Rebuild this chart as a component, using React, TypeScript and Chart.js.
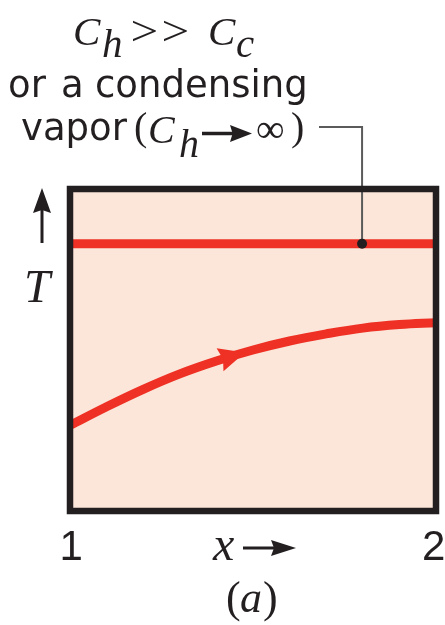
import React, { useEffect, useRef } from "react";
import { Chart, registerables } from "chart.js";

Chart.register(...registerables);

// Position along the exchanger (1 = inlet, 2 = outlet)
const positions = [1.0, 1.1, 1.2, 1.3, 1.4, 1.5, 1.6, 1.7, 1.8, 1.9, 2.0];
// Cold-fluid temperature (arbitrary units)
const coldTemps = [26.6, 32.4, 37.8, 42.6, 46.6, 50.0, 52.8, 55.0, 56.8, 57.9, 58.5];
// Hot fluid / condensing vapor stays at constant temperature
const hotPositions = [1, 2];
const hotTemps = [83, 83];
// Axis end labels
const xTickValues = [1, 2];
const xTickLabels = ["1", "2"];
// Where the flow arrow and the annotation leader touch the curves
const flowArrowAt = 1.478;
const leaderAt = 1.798;

const RED = "#ee3124";
const INK = "#231f20";
const FILL = "#fce6da";
const GREY = "#5b5b5b";

const SERIF = "'Liberation Serif', 'Times New Roman', serif";
const SANS = "'DejaVu Sans', sans-serif";

function inkText(ctx: CanvasRenderingContext2D, text: string, font: string, inkLeft: number, baseline: number) {
  ctx.font = font;
  ctx.textAlign = "left";
  ctx.textBaseline = "alphabetic";
  const m = ctx.measureText(text);
  ctx.fillText(text, inkLeft + m.actualBoundingBoxLeft, baseline);
}

// draw text stretched so its ink fills the given box
function inkTextBox(ctx: CanvasRenderingContext2D, text: string, font: string, x0: number, x1: number, y0: number, y1: number) {
  ctx.font = font;
  ctx.textAlign = "left";
  ctx.textBaseline = "alphabetic";
  const m = ctx.measureText(text);
  const w = m.actualBoundingBoxLeft + m.actualBoundingBoxRight;
  const h = m.actualBoundingBoxAscent + m.actualBoundingBoxDescent;
  const sx = (x1 - x0) / w;
  const sy = (y1 - y0) / h;
  ctx.save();
  ctx.translate(x0, y0);
  ctx.scale(sx, sy);
  ctx.fillText(text, m.actualBoundingBoxLeft, m.actualBoundingBoxAscent);
  ctx.restore();
}

function inkTextCentered(ctx: CanvasRenderingContext2D, text: string, font: string, cx: number, baseline: number) {
  ctx.font = font;
  ctx.textAlign = "left";
  ctx.textBaseline = "alphabetic";
  const m = ctx.measureText(text);
  const w = m.actualBoundingBoxLeft + m.actualBoundingBoxRight;
  ctx.fillText(text, cx - w / 2 + m.actualBoundingBoxLeft, baseline);
}

function arrowHead(ctx: CanvasRenderingContext2D, tipX: number, tipY: number, dx: number, dy: number, len: number, half: number) {
  const nx = -dy;
  const ny = dx;
  const bx = tipX - dx * len;
  const by = tipY - dy * len;
  ctx.beginPath();
  ctx.moveTo(tipX, tipY);
  ctx.lineTo(bx + nx * half, by + ny * half);
  ctx.lineTo(bx + dx * len * 0.12, by + dy * len * 0.12);
  ctx.lineTo(bx - nx * half, by - ny * half);
  ctx.closePath();
  ctx.fill();
}

function interpCold(x: number) {
  for (let i = 0; i < positions.length - 1; i++) {
    if (x >= positions[i] && x <= positions[i + 1]) {
      const t = (x - positions[i]) / (positions[i + 1] - positions[i]);
      return coldTemps[i] + t * (coldTemps[i + 1] - coldTemps[i]);
    }
  }
  return coldTemps[coldTemps.length - 1];
}

const diagramPlugin = {
  id: "exchangerDiagram",
  beforeDatasetsDraw(chart: any) {
    const { ctx, chartArea: a } = chart;
    ctx.save();
    ctx.fillStyle = FILL;
    ctx.fillRect(a.left, a.top, a.right - a.left, a.bottom - a.top);
    ctx.restore();
  },
  afterDatasetsDraw(chart: any) {
    const { ctx, chartArea: a } = chart;
    const xs = chart.scales.x;
    const ys = chart.scales.y;
    ctx.save();

    // flow direction arrow on the cold-fluid curve
    const tx = xs.getPixelForValue(flowArrowAt);
    const ty = ys.getPixelForValue(interpCold(flowArrowAt));
    const px = xs.getPixelForValue(flowArrowAt - 0.04);
    const py = ys.getPixelForValue(interpCold(flowArrowAt - 0.04));
    let dx = tx - px;
    let dy = ty - py;
    const dl = Math.hypot(dx, dy);
    dx /= dl;
    dy /= dl;
    ctx.fillStyle = RED;
    arrowHead(ctx, tx, ty, dx, dy, 26, 12);

    // annotation leader to the hot-fluid line
    const lx = xs.getPixelForValue(leaderAt);
    const ly = ys.getPixelForValue(hotTemps[0]);
    ctx.strokeStyle = GREY;
    ctx.lineWidth = 2;
    ctx.beginPath();
    ctx.moveTo(319, 127);
    ctx.lineTo(lx, 127);
    ctx.lineTo(lx, ly);
    ctx.stroke();

    // frame
    ctx.strokeStyle = INK;
    ctx.lineWidth = 6.5;
    ctx.strokeRect(a.left, a.top, a.right - a.left, a.bottom - a.top);

    ctx.fillStyle = INK;
    ctx.beginPath();
    ctx.arc(lx, ly, 5, 0, Math.PI * 2);
    ctx.fill();

    // annotation text
    ctx.fillStyle = INK;
    const it = `italic 41px ${SERIF}`;
    inkText(ctx, "C", it, 75, 45);
    inkText(ctx, "h", it, 103, 57);
    inkTextBox(ctx, ">", `41px ${SERIF}`, 133, 157, 20, 42);
    inkTextBox(ctx, ">", `41px ${SERIF}`, 164, 188, 20, 42);
    inkText(ctx, "C", it, 210, 45);
    inkText(ctx, "c", it, 237, 57);

    const sans = `37px ${SANS}`;
    inkText(ctx, "or", sans, 10, 97);
    inkText(ctx, "a", sans, 63, 97);
    inkText(ctx, "condensing", sans, 97, 97);

    inkText(ctx, "vapor", sans, 22, 140);
    inkText(ctx, "(", `40px ${SERIF}`, 135, 140);
    inkText(ctx, "C", `italic 40px ${SERIF}`, 150, 143);
    inkText(ctx, "h", `italic 40px ${SERIF}`, 180, 157);
    ctx.lineWidth = 3.5;
    ctx.strokeStyle = INK;
    ctx.beginPath();
    ctx.moveTo(202, 133.5);
    ctx.lineTo(234, 133.5);
    ctx.stroke();
    arrowHead(ctx, 252, 133.5, 1, 0, 22, 8.5);
    inkText(ctx, "\u221E", `40px ${SERIF}`, 257, 142);
    inkText(ctx, ")", `40px ${SERIF}`, 292, 140);

    // T axis label with upward arrow
    ctx.lineWidth = 3;
    ctx.beginPath();
    ctx.moveTo(42, 243);
    ctx.lineTo(42, 208);
    ctx.stroke();
    arrowHead(ctx, 42, 188, 0, -1, 25, 9);
    inkText(ctx, "T", `italic 47px ${SERIF}`, 27, 302);

    // x end labels
    xTickValues.forEach((v, i) => {
      inkTextCentered(ctx, xTickLabels[i], `42px 'Liberation Sans', sans-serif`, xs.getPixelForValue(v) + (i === 0 ? 2 : -2), 560);
    });

    // x axis label with arrow
    inkText(ctx, "x", `italic 48px ${SERIF}`, 212, 560);
    ctx.lineWidth = 3;
    ctx.beginPath();
    ctx.moveTo(243, 548);
    ctx.lineTo(276, 548);
    ctx.stroke();
    arrowHead(ctx, 296, 548, 1, 0, 25, 8);

    // panel caption
    inkText(ctx, "(", `44px ${SERIF}`, 227, 612);
    inkText(ctx, "a", `italic 44px ${SERIF}`, 241, 612);
    inkText(ctx, ")", `44px ${SERIF}`, 264, 612);

    ctx.restore();
  },
};

export default function App() {
  const canvasRef = useRef<HTMLCanvasElement | null>(null);

  useEffect(() => {
    const canvas = canvasRef.current;
    if (!canvas) return;
    const chart = new Chart(canvas, {
      type: "line",
      data: {
        datasets: [
          {
            label: "hot",
            data: hotPositions.map((x, i) => ({ x, y: hotTemps[i] })),
            borderColor: RED,
            borderWidth: 9,
            pointRadius: 0,
            fill: false,
          },
          {
            label: "cold",
            data: positions.map((x, i) => ({ x, y: coldTemps[i] })),
            borderColor: RED,
            borderWidth: 9,
            pointRadius: 0,
            tension: 0.4,
            fill: false,
          },
        ],
      },
      options: {
        responsive: false,
        animation: false,
        devicePixelRatio: 1,
        layout: { padding: { left: 70, right: 9, top: 189, bottom: 114 } },
        plugins: { legend: { display: false }, tooltip: { enabled: false } },
        scales: {
          x: { type: "linear", min: 1, max: 2, display: false },
          y: { type: "linear", min: 0, max: 100, display: false },
        },
      },
      plugins: [diagramPlugin],
    });
    return () => chart.destroy();
  }, []);

  return (
    <div style={{ position: "absolute", left: 0, top: 0, width: 445, height: 625, background: "#ffffff" }}>
      <canvas ref={canvasRef} width={445} height={625} />
    </div>
  );
}
